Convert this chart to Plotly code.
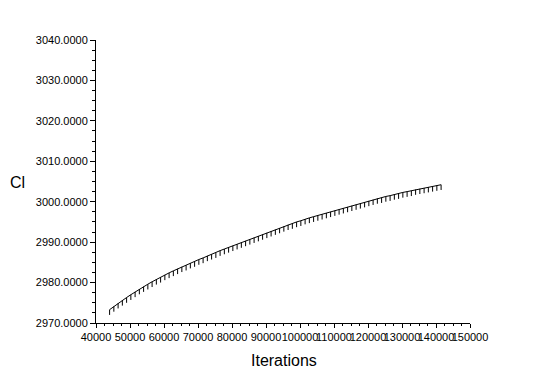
import plotly.graph_objects as go

iterations = [44000 + 1250 * k for k in range(79)]
cl_values = [
    2973.3, 2974.1, 2974.9, 2975.6, 2976.3, 2977.0, 2977.7, 2978.4, 2979.0, 2979.6,
    2980.2, 2980.8, 2981.3, 2981.9, 2982.4, 2982.9, 2983.4, 2983.9, 2984.3, 2984.8,
    2985.2, 2985.7, 2986.1, 2986.6, 2987.0, 2987.4, 2987.9, 2988.3, 2988.7, 2989.1,
    2989.5, 2989.9, 2990.3, 2990.7, 2991.1, 2991.5, 2991.9, 2992.3, 2992.7, 2993.1,
    2993.5, 2993.9, 2994.3, 2994.6, 2995.0, 2995.3, 2995.7, 2996.0, 2996.3, 2996.6,
    2996.9, 2997.2, 2997.5, 2997.8, 2998.1, 2998.4, 2998.7, 2999.0, 2999.3, 2999.6,
    2999.9, 3000.2, 3000.5, 3000.8, 3001.0, 3001.3, 3001.5, 3001.8, 3002.0, 3002.3,
    3002.5, 3002.7, 3003.0, 3003.2, 3003.4, 3003.6, 3003.8, 3004.0, 3004.2,
]
err_minus = [1.3] * len(cl_values)

x_ticks = list(range(40000, 150001, 10000))
y_ticks = list(range(2970, 3041, 10))

fig = go.Figure()
fig.add_trace(go.Scatter(
    x=iterations, y=cl_values, mode="lines",
    line=dict(color="black", width=1),
    error_y=dict(type="data", symmetric=False, array=[0] * len(cl_values),
                 arrayminus=err_minus, width=0, thickness=1, color="black"),
    showlegend=False,
))

font = "Liberation Sans, Arial, sans-serif"
W, H = 533, 378
OFF = 8  # page offset of the figure inside the browser window
L, T = 96 - OFF, 40 - OFF
R = W - (470 - OFF)
B = H - (323 - OFF)
plot_w = W - L - R
plot_h = H - T - B

fig.update_layout(
    width=W, height=H,
    margin=dict(l=L, r=R, t=T, b=B, autoexpand=False),
    paper_bgcolor="white", plot_bgcolor="white",
    font=dict(family=font, size=11, color="black"),
    xaxis=dict(
        range=[40000, 150000], tickvals=x_ticks, ticktext=[str(v) for v in x_ticks],
        tickangle=0,
        showgrid=False, zeroline=False, showline=True, linecolor="black", linewidth=1,
        ticks="outside", ticklen=4, tickcolor="black",
        minor=dict(dtick=2500, ticks="outside", ticklen=2, tickcolor="black", showgrid=False),
        tickfont=dict(size=11),
    ),
    yaxis=dict(
        range=[2970, 3040], tickvals=y_ticks, ticktext=[f"{v:.4f}" for v in y_ticks],
        showgrid=False, zeroline=False, showline=True, linecolor="black", linewidth=1,
        ticks="outside", ticklen=5, tickcolor="black",
        minor=dict(dtick=2.5, ticks="outside", ticklen=3, tickcolor="black", showgrid=False),
        tickfont=dict(size=11),
    ),
    annotations=[
        dict(text="Cl", x=(17 - OFF - L) / plot_w, y=(H - B - (182 - OFF)) / plot_h,
             xref="paper", yref="paper", showarrow=False,
             font=dict(size=16, family=font), xanchor="center", yanchor="middle"),
        dict(text="Iterations", x=(284 - OFF - L) / plot_w, y=(H - B - (360 - OFF)) / plot_h,
             xref="paper", yref="paper", showarrow=False,
             font=dict(size=16, family=font), xanchor="center", yanchor="middle"),
    ],
)

fig.write_html("out.html")
